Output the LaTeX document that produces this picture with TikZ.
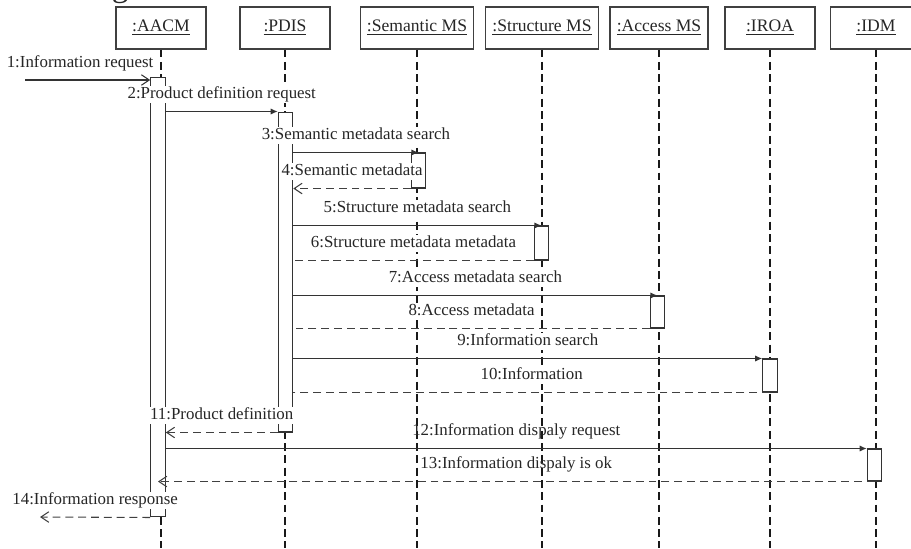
\documentclass[tikz,border=0pt]{standalone}
\usepackage{fontspec}
\setmainfont{Liberation Serif}
\usetikzlibrary{arrows.meta}
\begin{document}
\begin{tikzpicture}[x=0.02cm, y=-0.02cm, line width=0.6pt,
    head/.style={draw=black!75, minimum height=0.84cm, inner sep=2pt, text=black!85, font=\fontsize{10}{12}\selectfont},
    bar/.style={draw=black!80, fill=white, minimum width=0.29cm, inner sep=0pt},
    lifeline/.style={black!90, dash pattern=on 4.5pt off 2.5pt},
    call/.style={black!80, -{Latex[length=4pt,width=3.5pt]}},
    found/.style={black!80, -{Straight Barb[length=4.5pt,width=6pt]}},
    reply/.style={black!75, dash pattern=on 4.5pt off 2.8pt},
    back/.style={reply, -{Straight Barb[length=4.5pt,width=6pt]}},
    msg/.style={above=4.5pt, fill=white, inner sep=0.5pt, text height=6.8pt, text depth=2pt, text=black!85, font=\fontsize{9.6}{11}\selectfont},
    msgclear/.style={msg, fill=none}]
    \useasboundingbox (0,0) rectangle (911,548);
    \clip (0,0) rectangle (911,548);
    % caption cut off by the top edge
    \node[anchor=base west, inner sep=0, text=black!85, font=\fontsize{19}{22}\selectfont] (caption) at (0,-4) {accessing metadata service.};
    % objects
    \node[head, minimum width=1.8cm] (aacm) at (161,28) {\underline{:AACM}};
    \node[head, minimum width=1.8cm] (pdis) at (285,28) {\underline{:PDIS}};
    \node[head, minimum width=2.26cm] (sem) at (417,28) {\underline{:Semantic MS}};
    \node[head, minimum width=2.26cm] (str) at (542,28) {\underline{:Structure MS}};
    \node[head, minimum width=1.96cm] (acc) at (659,28) {\underline{:Access MS}};
    \node[head, minimum width=1.8cm] (iroa) at (770,28) {\underline{:IROA}};
    \node[head, minimum width=1.84cm] (idm) at (876,28) {\underline{:IDM}};
    \foreach \h in {aacm,pdis,sem,str,acc,iroa,idm}
        \draw[lifeline] (\h.south) -- (\h.south |- 0,548);
    % activations
    \node[bar, minimum height=8.8cm] (aacmBar) at (158,297) {};
    \node[bar, minimum height=6.4cm] (pdisBar) at (285.5,272) {};
    \node[bar, minimum height=0.7cm] (semBar) at (418.5,170.5) {};
    \node[bar, minimum height=0.68cm] (strBar) at (541.5,243) {};
    \node[bar, minimum height=0.64cm] (accBar) at (657.5,312) {};
    \node[bar, minimum height=0.66cm] (iroaBar) at (770,375.5) {};
    \node[bar, minimum height=0.64cm] (idmBar) at (874.5,465) {};
    % messages
    \coordinate (inStart) at (25,80);
    \coordinate (outEnd) at (40,517);
    \draw[found] (inStart) -- node[msg, pos=0.44] {1:Information request} (aacmBar.west |- inStart);
    \draw[call] (aacmBar.east |- pdisBar.north) -- node[msg] {2:Product definition request} (pdisBar.north west);
    \draw[call] (pdisBar.east |- semBar.north) -- node[msg] {3:Semantic metadata search} (semBar.north);
    \draw[back] (semBar.south west) -- node[msg] {4:Semantic metadata} (pdisBar.east |- semBar.south);
    \draw[call] (pdisBar.east |- strBar.north) -- node[msg] {5:Structure metadata search} (strBar.north);
    \draw[reply] (strBar.south west) -- node[msg] {6:Structure metadata metadata} (pdisBar.east |- strBar.south);
    \draw[call] (pdisBar.east |- accBar.north) -- node[msg] {7:Access metadata search} (accBar.north);
    \draw[reply] (accBar.south west) -- node[msg] {8:Access metadata} (pdisBar.east |- accBar.south);
    \draw[call] (pdisBar.east |- iroaBar.north) -- node[msg] {9:Information search} (iroaBar.north west);
    \draw[reply] (iroaBar.south) -- node[msg] {10:Information} (pdisBar.east |- iroaBar.south);
    \draw[back] (pdisBar.south west) -- node[msg] {11:Product definition} (aacmBar.east |- pdisBar.south);
    \draw[call] (aacmBar.east |- idmBar.north) -- node[msgclear] {12:Information dispaly request} (idmBar.north west);
    \draw[back] (idmBar.south) -- node[msgclear] {13:Information dispaly is ok} (aacmBar |- idmBar.south);
    \draw[back] (aacmBar.south west) -- node[msg] {14:Information response} (outEnd);
\end{tikzpicture}
\end{document}
